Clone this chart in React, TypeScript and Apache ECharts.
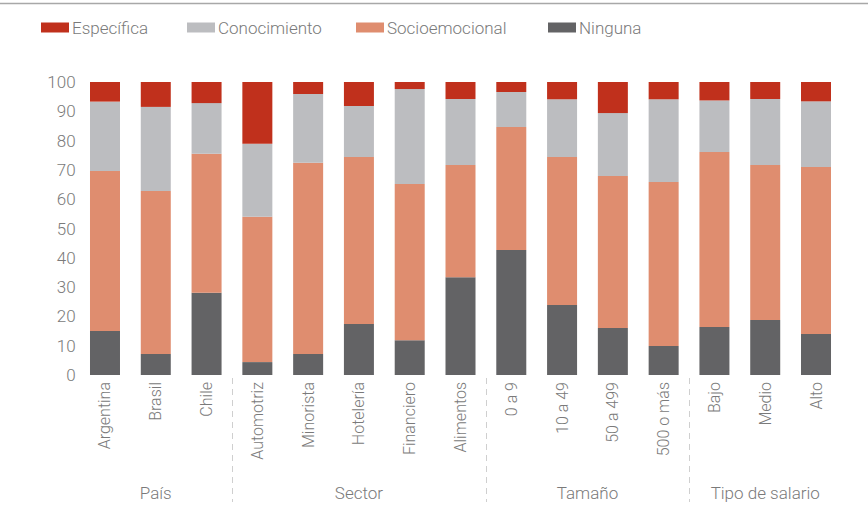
import React, { useEffect, useRef } from "react";
import * as echarts from "echarts";

const categories = ["Argentina", "Brasil", "Chile", "Automotriz", "Minorista", "Hotelería", "Financiero", "Alimentos", "0 a 9", "10 a 49", "50 a 499", "500 o más", "Bajo", "Medio", "Alto"];
const groupNames = ["País", "Sector", "Tamaño", "Tipo de salario"];
const groupSizes = [3, 5, 4, 3];

const ninguna = [15.0, 7.2, 28.1, 4.4, 7.2, 17.4, 11.9, 33.4, 42.7, 23.9, 16.0, 9.9, 16.4, 18.8, 14.0];
const socioemocional = [54.6, 55.6, 47.4, 49.6, 65.2, 57.0, 53.3, 38.3, 41.9, 50.5, 51.9, 56.0, 59.7, 52.9, 57.0];
const conocimiento = [23.7, 28.7, 17.3, 24.9, 23.5, 17.4, 32.4, 22.5, 12.0, 19.7, 21.5, 28.2, 17.6, 22.5, 22.4];
const especifica = [6.7, 8.5, 7.2, 21.1, 4.1, 8.2, 2.4, 5.8, 3.4, 5.9, 10.6, 5.9, 6.3, 5.8, 6.6];

const yTicks = { min: 0, max: 100, interval: 10 };

const FONT = "Roboto, 'Liberation Sans Narrow', sans-serif";
const FW = 300;
const FS = 16;
const TXT = "#7a7a7a";

const COLORS = {
  Específica: "#C0301C",
  Conocimiento: "#BCBDC0",
  Socioemocional: "#DF8D6F",
  Ninguna: "#636365",
};

export default function App() {
  const ref = useRef<HTMLDivElement>(null);

  useEffect(() => {
    if (!ref.current) return;
    const chart = echarts.init(ref.current, null, { renderer: "svg" });

    const legendPos = [
      { name: "Específica", left: 36 },
      { name: "Conocimiento", left: 182 },
      { name: "Socioemocional", left: 351 },
      { name: "Ninguna", left: 543 },
    ];

    const mkSeries = (name: string, data: number[]) => ({
      name,
      type: "bar",
      stack: "total",
      barWidth: 30,
      data,
      itemStyle: { color: (COLORS as any)[name] },
    });

    chart.setOption({
      animation: false,
      textStyle: { fontFamily: FONT, fontWeight: FW },
      legend: legendPos.map((l) => ({
        data: [l.name],
        left: l.left,
        top: 14,
        itemWidth: 28,
        itemHeight: 10,
        itemGap: 0,
        icon: "rect",
        textStyle: { fontFamily: FONT, fontWeight: FW, fontSize: FS + 1, color: TXT, padding: [0, 0, 0, -2] },
        selectedMode: false,
      })),
      grid: { left: 79.6, right: 26.6, top: 82, bottom: 138, containLabel: false },
      xAxis: {
        type: "category",
        data: categories,
        axisLine: { show: false },
        axisTick: { show: false },
        axisLabel: {
          rotate: 90,
          interval: 0,
          margin: 7,
          fontFamily: FONT,
          fontWeight: FW,
          fontSize: FS,
          color: TXT,
        },
      },
      yAxis: {
        type: "value",
        min: yTicks.min,
        max: yTicks.max,
        interval: yTicks.interval,
        splitLine: { show: false },
        axisLine: { show: false },
        axisTick: { show: false },
        axisLabel: { margin: 4, fontFamily: FONT, fontWeight: FW, fontSize: FS + 1, color: TXT },
      },
      series: [
        mkSeries("Ninguna", ninguna),
        mkSeries("Socioemocional", socioemocional),
        mkSeries("Conocimiento", conocimiento),
        mkSeries("Específica", especifica),
      ],
    });

    const xPix = (i: number) => chart.convertToPixel({ xAxisIndex: 0 }, i) as number;
    const y0 = chart.convertToPixel({ yAxisIndex: 0 }, 0) as number;
    const graphics: any[] = [
      {
        type: "line",
        shape: { x1: 0, y1: 3.5, x2: 868, y2: 3.5 },
        style: { stroke: "#a8a8a8", lineWidth: 1.5 },
        silent: true,
      },
    ];
    let start = 0;
    groupSizes.forEach((size, g) => {
      const end = start + size - 1;
      const cx = (xPix(start) + xPix(end)) / 2;
      graphics.push({
        type: "text",
        x: cx,
        y: y0 + 118,
        style: {
          text: groupNames[g],
          fontFamily: FONT,
          fontWeight: FW,
          fontSize: FS + 1,
          fill: TXT,
          align: "center",
          verticalAlign: "middle",
        },
        silent: true,
      });
      if (g < groupSizes.length - 1) {
        const sx = Math.round((xPix(end) + xPix(end + 1)) / 2) + 0.5;
        graphics.push({
          type: "line",
          shape: { x1: sx, y1: y0 + 3, x2: sx, y2: y0 + 127 },
          style: { stroke: "#cfcfcf", lineWidth: 1, lineDash: [6, 5] },
          silent: true,
        });
      }
      start = end + 1;
    });
    chart.setOption({ graphic: graphics });

    return () => chart.dispose();
  }, []);

  return (
    <div
      ref={ref}
      style={{ position: "fixed", left: 0, top: 0, width: 868, height: 513, background: "#fff" }}
    />
  );
}
